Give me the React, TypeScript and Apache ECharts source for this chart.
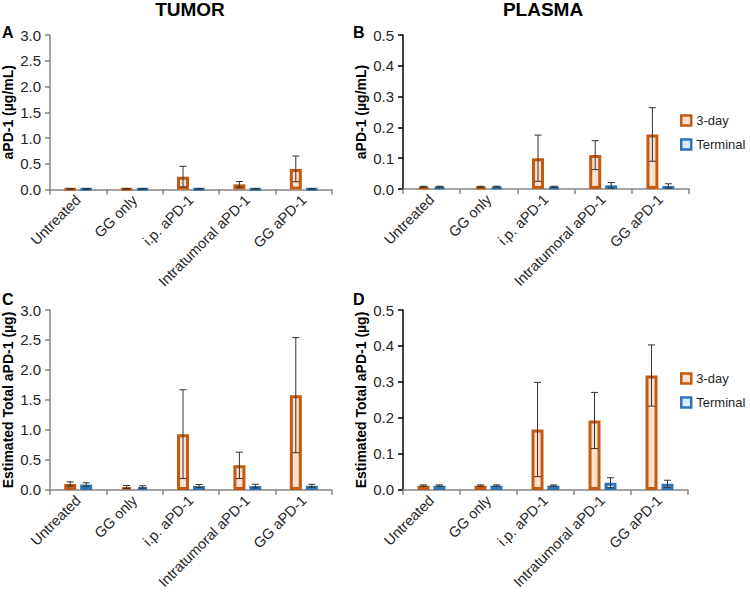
import React, { useEffect, useRef } from "react";
import * as echarts from "echarts";

const categories = ["Untreated", "GG only", "i.p. aPD-1", "Intratumoral aPD-1", "GG aPD-1"];

// Panel A: tumor concentration (µg/mL)
const tumorConc3day = [0.01, 0.01, 0.25, 0.1, 0.4];
const tumorConc3dayErr = [0.005, 0.004, 0.2, 0.055, 0.25];
const tumorConcTerminal = [0.01, 0.01, 0.01, 0.01, 0.01];
const tumorConcTerminalErr = [0.004, 0.004, 0.004, 0.004, 0.004];

// Panel B: plasma concentration (µg/mL)
const plasmaConc3day = [0.007, 0.007, 0.1, 0.11, 0.177];
const plasmaConc3dayErr = [0.002, 0.002, 0.075, 0.047, 0.087];
const plasmaConcTerminal = [0.007, 0.007, 0.007, 0.012, 0.01];
const plasmaConcTerminalErr = [0.002, 0.002, 0.002, 0.009, 0.007];

// Panel C: estimated total in tumor (µg)
const tumorTotal3day = [0.1, 0.05, 0.93, 0.41, 1.58];
const tumorTotal3dayErr = [0.035, 0.025, 0.74, 0.22, 0.96];
const tumorTotalTerminal = [0.09, 0.05, 0.065, 0.065, 0.07];
const tumorTotalTerminalErr = [0.03, 0.02, 0.025, 0.03, 0.025];

// Panel D: estimated total in plasma (µg)
const plasmaTotal3day = [0.012, 0.012, 0.168, 0.193, 0.318];
const plasmaTotal3dayErr = [0.002, 0.002, 0.131, 0.078, 0.085];
const plasmaTotalTerminal = [0.012, 0.012, 0.012, 0.02, 0.017];
const plasmaTotalTerminalErr = [0.002, 0.002, 0.002, 0.014, 0.01];

const seriesNames = ["3-day", "Terminal"];

const FONT = "'Liberation Sans', Arial, Helvetica, sans-serif";
const ORANGE = "#C55A11";
const ORANGE_FILL = "#FCE1D0";
const BLUE = "#2E75B6";
const BLUE_FILL = "#DDEBF7";
const ERR = "#333333";
const TEXT = "#262626";

const BAR_W = 12;
const BAR_OFFSET = 8;

type Panel = {
  grid: { left: number; top: number; width: number; height: number };
  max: number;
  interval: number;
  yName: string;
  yAxisColor: string;
  day3: number[];
  day3Err: number[];
  term: number[];
  termErr: number[];
};

const panels: Panel[] = [
  {
    grid: { left: 49, top: 35, width: 283, height: 154.5 },
    max: 3, interval: 0.5, yName: "aPD-1 (µg/mL)", yAxisColor: "#868686",
    day3: tumorConc3day, day3Err: tumorConc3dayErr, term: tumorConcTerminal, termErr: tumorConcTerminalErr,
  },
  {
    grid: { left: 403, top: 35, width: 286, height: 154 },
    max: 0.5, interval: 0.1, yName: "aPD-1 (µg/mL)", yAxisColor: "#000000",
    day3: plasmaConc3day, day3Err: plasmaConc3dayErr, term: plasmaConcTerminal, termErr: plasmaConcTerminalErr,
  },
  {
    grid: { left: 49, top: 310, width: 283, height: 184 },
    max: 3, interval: 0.5, yName: "Estimated Total aPD-1 (µg)", yAxisColor: "#868686",
    day3: tumorTotal3day, day3Err: tumorTotal3dayErr, term: tumorTotalTerminal, termErr: tumorTotalTerminalErr,
  },
  {
    grid: { left: 403, top: 310, width: 285, height: 183 },
    max: 0.5, interval: 0.1, yName: "Estimated Total aPD-1 (µg)", yAxisColor: "#000000",
    day3: plasmaTotal3day, day3Err: plasmaTotal3dayErr, term: plasmaTotalTerminal, termErr: plasmaTotalTerminalErr,
  },
];

function errorBarSeries(idx: number, mean: number[], err: number[], offset: number) {
  return {
    type: "custom",
    xAxisIndex: idx,
    yAxisIndex: idx,
    z: 10,
    silent: true,
    data: mean.map((m, i) => [i, m, err[i]]),
    renderItem: (_params: any, api: any) => {
      const i = api.value(0);
      const m = api.value(1);
      const e = api.value(2);
      const top = api.coord([i, m + e]);
      const bot = api.coord([i, Math.max(m - e, 0)]);
      const x = top[0] + offset;
      const cap = 3.5;
      const style = { stroke: ERR, lineWidth: 1 };
      return {
        type: "group",
        children: [
          { type: "line", shape: { x1: x, y1: top[1], x2: x, y2: bot[1] }, style },
          { type: "line", shape: { x1: x - cap, y1: top[1], x2: x + cap, y2: top[1] }, style },
          { type: "line", shape: { x1: x - cap, y1: bot[1], x2: x + cap, y2: bot[1] }, style },
        ],
      };
    },
  };
}

function buildOption() {
  const grid = panels.map((p) => ({ ...p.grid, containLabel: false }));
  const xAxis = panels.map((_p, i) => ({
    type: "category",
    gridIndex: i,
    data: categories,
    boundaryGap: true,
    axisLine: { lineStyle: { color: "#868686", width: 1.5 } },
    axisTick: { show: true, length: 5, alignWithLabel: false, lineStyle: { color: "#868686", width: 1.5 } },
    axisLabel: {
      rotate: 45,
      interval: 0,
      margin: 8,
      fontSize: 14.5,
      fontFamily: FONT,
      color: TEXT,
    },
  }));
  const yAxis = panels.map((p, i) => ({
    type: "value",
    gridIndex: i,
    min: 0,
    max: p.max,
    interval: p.interval,
    name: p.yName,
    nameLocation: "middle",
    nameGap: 35,
    nameTextStyle: { fontSize: 14, fontWeight: "bold", fontFamily: FONT, color: "#000" },
    splitLine: { show: false },
    axisLine: { show: true, lineStyle: { color: p.yAxisColor, width: 1.5 } },
    axisTick: { show: true, length: 5, lineStyle: { color: p.yAxisColor, width: 1.5 } },
    axisLabel: {
      margin: 9,
      fontSize: 15,
      fontFamily: FONT,
      color: TEXT,
      formatter: (v: number) => v.toFixed(1),
    },
  }));

  const series: any[] = [];
  panels.forEach((p, i) => {
    series.push({
      type: "bar",
      name: seriesNames[0],
      xAxisIndex: i,
      yAxisIndex: i,
      data: p.day3,
      barWidth: BAR_W,
      barGap: "33%",
      itemStyle: { color: ORANGE_FILL, borderColor: ORANGE, borderWidth: 3 },
    });
    series.push({
      type: "bar",
      name: seriesNames[1],
      xAxisIndex: i,
      yAxisIndex: i,
      data: p.term,
      barWidth: BAR_W,
      barGap: "33%",
      itemStyle: { color: BLUE_FILL, borderColor: BLUE, borderWidth: 3 },
    });
  });
  panels.forEach((p, i) => {
    series.push(errorBarSeries(i, p.day3, p.day3Err, -BAR_OFFSET));
    series.push(errorBarSeries(i, p.term, p.termErr, BAR_OFFSET));
  });

  const legendData = [
    { name: seriesNames[0], itemStyle: { color: ORANGE_FILL, borderColor: ORANGE, borderWidth: 2.5 } },
    { name: seriesNames[1], itemStyle: { color: BLUE_FILL, borderColor: BLUE, borderWidth: 2.5 } },
  ];
  const legendBase = {
    orient: "vertical",
    left: 680,
    padding: 0,
    icon: "rect",
    itemWidth: 10,
    itemHeight: 10,
    itemGap: 11,
    selectedMode: false,
    data: legendData,
    textStyle: { fontSize: 13, fontFamily: FONT, color: TEXT },
  };

  const graphic = [
    { type: "text", x: 190, y: 9, style: { text: "TUMOR", font: `bold 19px ${FONT}`, fill: "#000", align: "center", verticalAlign: "middle" } },
    { type: "text", x: 543, y: 9, style: { text: "PLASMA", font: `bold 19px ${FONT}`, fill: "#000", align: "center", verticalAlign: "middle" } },
    { type: "text", x: 2, y: 32, style: { text: "A", font: `bold 16px ${FONT}`, fill: "#000", verticalAlign: "middle" } },
    { type: "text", x: 353, y: 32, style: { text: "B", font: `bold 16px ${FONT}`, fill: "#000", verticalAlign: "middle" } },
    { type: "text", x: 2, y: 299, style: { text: "C", font: `bold 16px ${FONT}`, fill: "#000", verticalAlign: "middle" } },
    { type: "text", x: 353, y: 299, style: { text: "D", font: `bold 16px ${FONT}`, fill: "#000", verticalAlign: "middle" } },
  ];

  return {
    animation: false,
    backgroundColor: "#ffffff",
    textStyle: { fontFamily: FONT },
    grid,
    xAxis,
    yAxis,
    series,
    legend: [
      { ...legendBase, top: 114 },
      { ...legendBase, top: 372 },
    ],
    graphic,
  };
}

export default function App() {
  const ref = useRef<HTMLDivElement>(null);
  useEffect(() => {
    if (!ref.current) return;
    const chart = echarts.init(ref.current, undefined, { renderer: "svg" });
    chart.setOption(buildOption() as any);
    return () => chart.dispose();
  }, []);
  return <div ref={ref} style={{ width: 750, height: 592, position: "absolute", left: 0, top: 0 }} />;
}
